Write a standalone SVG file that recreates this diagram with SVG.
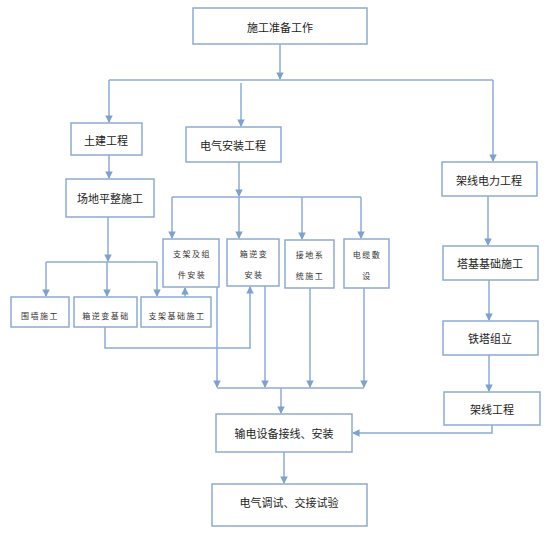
<svg xmlns="http://www.w3.org/2000/svg" width="552" height="536" viewBox="0 0 552 536">
<style>
.box{fill:#fff;stroke:#8eaad0;stroke-width:1.5}
.t{font-family:"Noto Sans CJK SC","Liberation Sans",sans-serif;font-size:11px;fill:#222;text-anchor:middle;dominant-baseline:central}
.s{font-family:"Noto Sans CJK SC","Liberation Sans",sans-serif;font-size:8px;fill:#333;text-anchor:middle;dominant-baseline:central;letter-spacing:1.5px}
.c{fill:none;stroke:#8cacd4;stroke-width:1.5}
.a{marker-end:url(#ah)}
</style>
<defs>
<marker id="ah" viewBox="0 0 8 8" refX="7" refY="4" markerWidth="5" markerHeight="5" orient="auto" markerUnits="strokeWidth">
<path d="M0,0 L8,4 L0,8 Z" fill="#7ea2cc"/>
</marker>
</defs>
<g id="connectors">
<path class="c a" d="M280,44 V79"/>
<path class="c" d="M109,80 H493"/>
<path class="c a" d="M109,80 V122"/>
<path class="c a" d="M241,83 V126"/>
<path class="c a" d="M493,80 V161"/>
<path class="c a" d="M109,155 V178"/>
<path class="c a" d="M108,217 V261"/>
<path class="c" d="M46,262 H157"/>
<path class="c a" d="M46,262 V296"/>
<path class="c a" d="M107,262 V296"/>
<path class="c a" d="M157,262 V296"/>
<path class="c a" d="M239,162 V196"/>
<path class="c" d="M172,197 H361"/>
<path class="c a" d="M172,197 V238"/>
<path class="c a" d="M239,197 V238"/>
<path class="c a" d="M302,197 V239"/>
<path class="c a" d="M361,197 V238"/>
<path class="c a" d="M185,297 V288"/>
<path class="c a" d="M105,327 V348 H250 V287"/>
<path class="c a" d="M217,287 V387"/>
<path class="c a" d="M265,286 V387"/>
<path class="c a" d="M310,288 V387"/>
<path class="c a" d="M364,288 V387"/>
<path class="c" d="M217,388 H364"/>
<path class="c a" d="M281,388 V413"/>
<path class="c a" d="M284,452 V483"/>
<path class="c a" d="M488,196 V245"/>
<path class="c a" d="M489,280 V320"/>
<path class="c a" d="M489,355 V391"/>
<path class="c a" d="M492,425 V433 H353"/>
</g>
<g id="n_prep"><rect class="box" x="193" y="8" width="174" height="36"/><text class="t" x="280" y="27">施工准备工作</text></g>
<g id="n_civil"><rect class="box" x="71" y="123" width="71" height="32"/><text class="t" x="106" y="140">土建工程</text></g>
<g id="n_elec"><rect class="box" x="186" y="127" width="95" height="35"/><text class="t" x="233" y="145">电气安装工程</text></g>
<g id="n_line"><rect class="box" x="442" y="162" width="95" height="34"/><text class="t" x="489" y="180">架线电力工程</text></g>
<g id="n_site"><rect class="box" x="66" y="179" width="88" height="38"/><text class="t" x="110" y="198">场地平整施工</text></g>
<g id="n_wall"><rect class="box" x="11" y="297" width="58" height="30"/><text class="s" x="40" y="315">围墙施工</text></g>
<g id="n_invbase"><rect class="box" x="74" y="297" width="63" height="30"/><text class="s" x="106" y="315">箱逆变基础</text></g>
<g id="n_bracketbase"><rect class="box" x="141" y="297" width="70" height="30"/><text class="s" x="177" y="315">支架基础施工</text></g>
<g id="n_bracket"><rect class="box" x="163" y="239" width="56" height="48"/><text class="s" x="192" y="253">支架及组</text><text class="s" x="192" y="274">件安装</text></g>
<g id="n_inv"><rect class="box" x="227" y="239" width="52" height="47"/><text class="s" x="254" y="253">箱逆变</text><text class="s" x="254" y="274">安装</text></g>
<g id="n_ground"><rect class="box" x="285" y="240" width="49" height="48"/><text class="s" x="310" y="254">接地系</text><text class="s" x="310" y="275">统施工</text></g>
<g id="n_cable"><rect class="box" x="344" y="239" width="45" height="49"/><text class="s" x="367" y="254">电缆敷</text><text class="s" x="367" y="275">设</text></g>
<g id="n_tower_base"><rect class="box" x="443" y="246" width="95" height="34"/><text class="t" x="490" y="263">塔基基础施工</text></g>
<g id="n_tower"><rect class="box" x="443" y="321" width="95" height="34"/><text class="t" x="490" y="338">铁塔组立</text></g>
<g id="n_wire"><rect class="box" x="444" y="392" width="96" height="33"/><text class="t" x="492" y="409">架线工程</text></g>
<g id="n_wiring"><rect class="box" x="216" y="414" width="136" height="38"/><text class="t" x="284" y="433">输电设备接线、安装</text></g>
<g id="n_test"><rect class="box" x="212" y="484" width="155" height="42"/><text class="t" x="289" y="502">电气调试、交接试验</text></g>
</svg>
